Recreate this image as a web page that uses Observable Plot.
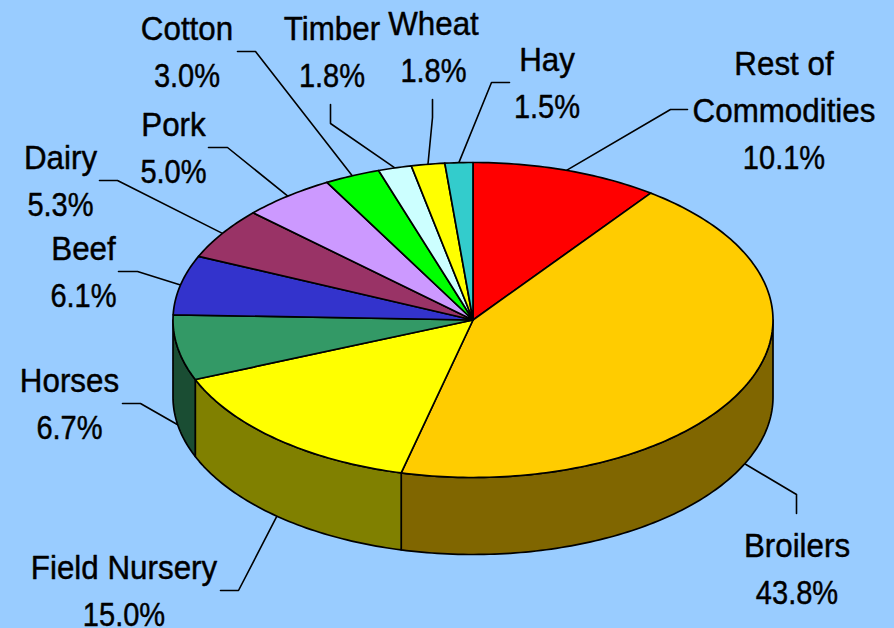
<!DOCTYPE html>
<html>
<head>
<meta charset="utf-8">
<script src="https://cdn.jsdelivr.net/npm/d3@7"></script>
<script src="https://cdn.jsdelivr.net/npm/@observablehq/plot@0.6"></script>
<style>
html,body{margin:0;padding:0;background:#99CCFF;overflow:hidden}
svg{display:block}
</style>
</head>
<body>
<div id="chart"></div>
<script>
// Data, clockwise from 12 o'clock
const categories = ["Rest of\nCommodities","Broilers","Field Nursery","Horses","Beef","Dairy","Pork","Cotton","Timber","Wheat","Hay"];
const shares = [10.1,43.8,15.0,6.7,6.1,5.3,5.0,3.0,1.8,1.8,1.5];

// Styles
const topColors  = ["#FF0000","#FFCC00","#FFFF00","#339966","#3333CC","#993366","#CC99FF","#00FF00","#CCFFFF","#FFFF00","#33CCCC"];
const sideColors = ["#800000","#806600","#808000","#1A4D33","#1A1A66","#4D1A33","#664D80","#008000","#668080","#808000","#1A6666"];

// Pie geometry in chart units
const cx = 472.5, cy = 319.5, rx = 300, ry = 157.5, depth = 77;

// Label layout: centre x, last-line baseline y
const labelX = [783.5,796.5,123.5,69,83,60,173,186.5,331.5,433,546.5];
const labelY = [168,603,625,438,306,215,182,86,86,81,117];
// Leader layout: elbow and end point
const elbowX = [670,796,238,140,137,117,227,255,330,432,491];
const elbowY = [109,494,590,403,271,180,147,51,123,117,82];
const endX   = [687,796,220,122,118,99,208,237,330,432,509];
const endY   = [109,513,590,403,271,180,147,51,104,99,82];

// Derived
const total = d3.sum(shares);
const cum = d3.cumsum(shares);
const slices = categories.map((name,i)=>({
  name, i, share: shares[i],
  a0: (cum[i]-shares[i])/total*360,
  a1: cum[i]/total*360
}));
const px = a => cx + rx*Math.sin(a*Math.PI/180);
const py = (a,dz=0) => cy - ry*Math.cos(a*Math.PI/180) + dz;
const arc = (a0,a1,dz=0)=>{
  const n = Math.max(2,Math.ceil(Math.abs(a1-a0)));
  return d3.range(n+1).map(k=>{const a=a0+(a1-a0)*k/n; return {x:px(a),y:py(a,dz)};});
};

const tops = slices.flatMap(s=>{
  const pts=[{x:cx,y:cy},...arc(s.a0,s.a1),{x:cx,y:cy}];
  return pts.map(p=>({...p,key:s.name}));
});
const sides = slices.flatMap(s=>{
  const a0=Math.max(s.a0,90), a1=Math.min(s.a1,270);
  if(a1<=a0) return [];
  const upper=arc(a0,a1), lower=arc(a1,a0,depth);
  return [...upper,...lower,upper[0]].map(p=>({...p,key:s.name+" side"}));
});
const leaders = slices.flatMap(s=>{
  const mid=(s.a0+s.a1)/2;
  const dz=(mid>90&&mid<270)?depth:0;
  return [{x:px(mid),y:py(mid,dz)},{x:elbowX[s.i],y:elbowY[s.i]},{x:endX[s.i],y:endY[s.i]}]
    .map(p=>({...p,key:s.name}));
});
const labels = slices.map(s=>({
  x:labelX[s.i], y:labelY[s.i],
  name:s.name,
  pct:`${s.share.toFixed(1)}%`
}));
const lineGap = 46.5;
const textStyle = {x:"x",y:"y",textAnchor:"middle",lineAnchor:"bottom",lineHeight:1.41,
  fontSize:33,fontFamily:"Liberation Sans",fill:"#000",stroke:"#000",strokeWidth:0.45};

const chart = Plot.plot({
  width:894, height:628,
  marginTop:0, marginRight:0, marginBottom:0, marginLeft:0,
  style:{background:"#99CCFF"},
  x:{domain:[0,894],range:[0,894],axis:null},
  y:{domain:[0,628],range:[0,628],axis:null},
  color:{
    domain:[...categories,...categories.map(c=>c+" side")],
    range:[...topColors,...sideColors]
  },
  marks:[
    Plot.line(leaders,{x:"x",y:"y",z:"key",stroke:"#000",strokeWidth:1.6}),
    Plot.line(sides,{x:"x",y:"y",z:"key",fill:"key",stroke:"#000",strokeWidth:1.7,strokeLinejoin:"round"}),
    Plot.line(tops,{x:"x",y:"y",z:"key",fill:"key",stroke:"#000",strokeWidth:1.7,strokeLinejoin:"round"}),
    Plot.text(labels,{...textStyle,text:"name",dy:-lineGap,className:"names"}),
    Plot.text(labels,{...textStyle,text:"pct",className:"pcts"})
  ]
});
// Narrowed lettering of the reference
const narrow=(sel,k)=>chart.querySelectorAll(sel).forEach(t=>{
  t.setAttribute("transform",(t.getAttribute("transform")||"")+` scale(${k},1)`);
});
narrow(".names text",0.95);
narrow(".pcts text",0.88);
document.getElementById("chart").appendChild(chart);
</script>
</body>
</html>
